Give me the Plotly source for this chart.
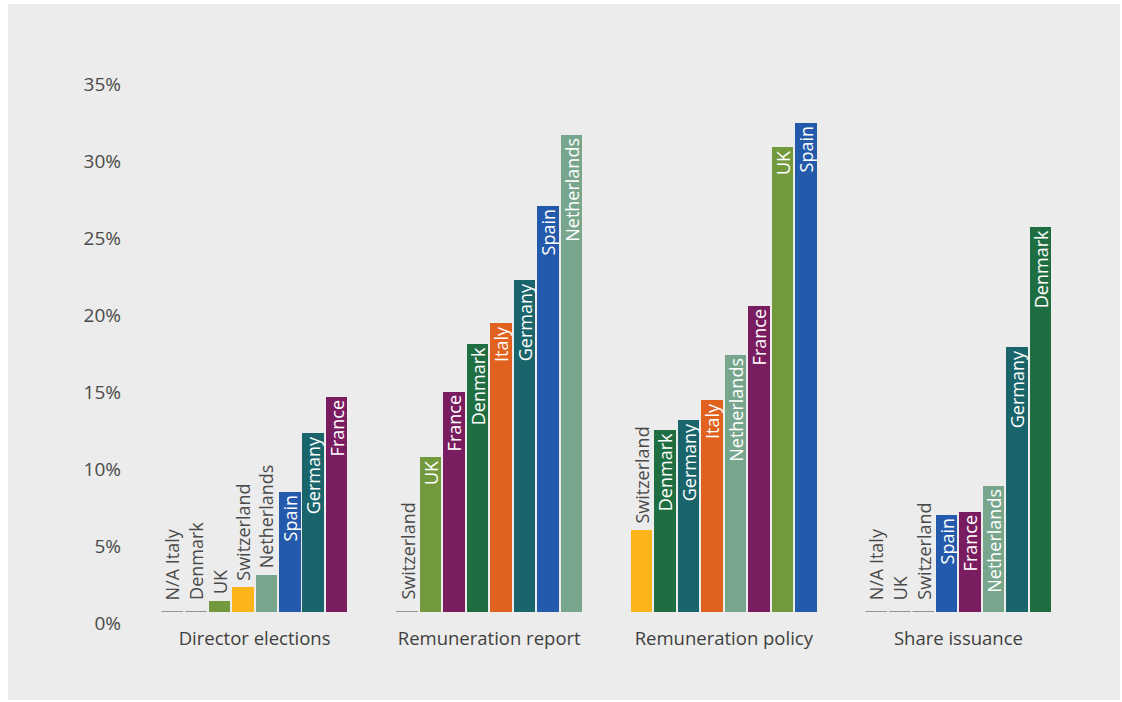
import plotly.graph_objects as go

# Share of resolutions opposed, by resolution type and market (%)
groups = ["Director elections", "Remuneration report", "Remuneration policy", "Share issuance"]

director_countries = ["N/A Italy", "Denmark", "UK", "Switzerland", "Netherlands", "Spain", "Germany", "France"]
director_values = [0, 0, 0.7, 1.6, 2.4, 7.8, 11.6, 14.0]

report_countries = ["Switzerland", "UK", "France", "Denmark", "Italy", "Germany", "Spain", "Netherlands"]
report_values = [0, 10.1, 14.3, 17.4, 18.8, 21.6, 26.4, 31.0]

policy_countries = ["Switzerland", "Denmark", "Germany", "Italy", "Netherlands", "France", "UK", "Spain"]
policy_values = [5.3, 11.8, 12.5, 13.8, 16.7, 19.9, 30.2, 31.8]

issuance_countries = ["N/A Italy", "UK", "Switzerland", "Spain", "France", "Netherlands", "Germany", "Denmark"]
issuance_values = [0, 0, 0, 6.3, 6.5, 8.2, 17.2, 25.0]

y_ticks = [0, 5, 10, 15, 20, 25, 30, 35]

country_colors = {
    "UK": "#72993c",
    "Switzerland": "#fbb41a",
    "Netherlands": "#78a68c",
    "Spain": "#245aab",
    "Germany": "#19656b",
    "France": "#791c60",
    "Denmark": "#1f6e42",
    "Italy": "#e1611f",
    "N/A Italy": "#e1611f",
}

BG = "rgb(235,236,235)"
FONT = "Open Sans"
GROUP_STEP = 10
BAR_W = 0.92
INSIDE_MIN = 6.0

all_countries = [director_countries, report_countries, policy_countries, issuance_countries]
all_values = [director_values, report_values, policy_values, issuance_values]

fig = go.Figure()

zero_x, zero_y = [], []
for g, (countries, values) in enumerate(zip(all_countries, all_values)):
    xs = [g * GROUP_STEP + i for i in range(len(values))]
    inside = [v >= INSIDE_MIN for v in values]
    fig.add_trace(go.Bar(
        x=xs,
        y=values,
        width=BAR_W,
        marker=dict(color=[country_colors[c] for c in countries], line=dict(width=0)),
        text=[c if f else "" for c, f in zip(countries, inside)],
        textangle=-90,
        textposition="inside",
        insidetextanchor="end",
        constraintext="none",
        textfont=dict(family=FONT, size=18, color="#ffffff"),
        hoverinfo="skip",
        showlegend=False,
    ))
    # labels of short bars sit just above the bar, in grey
    for x, v, c, f in zip(xs, values, countries, inside):
        if not f:
            fig.add_annotation(
                x=x, y=v, text=c, textangle=-90, showarrow=False,
                xanchor="center", yanchor="bottom",
                yshift=10 if v == 0 else 5,
                font=dict(family=FONT, size=18, color="#4a4a4a"),
            )
    # short baseline strokes for markets with no value
    for x, v in zip(xs, values):
        if v == 0:
            zero_x += [x - BAR_W / 2, x + BAR_W / 2, None]
            zero_y += [0, 0, None]

fig.add_trace(go.Scatter(
    x=zero_x, y=zero_y, mode="lines",
    line=dict(color="#777777", width=1.5),
    hoverinfo="skip", showlegend=False, cliponaxis=False,
))

L, R, T, B = 126, 58, 60, 90
plot_h = 702 - T - B
px_per_unit = 15.39

# light grey panel behind the chart
fig.add_shape(
    type="rect", xref="paper", yref="paper", layer="below",
    x0=(8 - L) / (1122 - L - R), x1=(1120 - L) / (1122 - L - R),
    y0=(702 - B - 700) / plot_h, y1=(702 - B - 4) / plot_h,
    fillcolor=BG, line=dict(width=0),
)

fig.update_layout(
    width=1122, height=702,
    margin=dict(l=L, r=R, t=T, b=B),
    paper_bgcolor="white",
    plot_bgcolor="rgba(0,0,0,0)",
    font=dict(family=FONT, color="#444444"),
    bargap=0,
    xaxis=dict(
        range=[-1.98, 38.0],
        tickvals=[g * GROUP_STEP + 3.5 for g in range(len(groups))],
        ticktext=groups,
        ticks="", showgrid=False, zeroline=False, showline=False,
        tickfont=dict(family=FONT, size=18.5, color="#3f3f3f"),
        ticklabelstandoff=13,
    ),
    yaxis=dict(
        range=[0, plot_h / px_per_unit],
        tickvals=y_ticks,
        ticktext=[f"{v}%" for v in y_ticks],
        ticks="", showgrid=False, zeroline=False, showline=False,
        tickfont=dict(family=FONT, size=19, color="#4a4a4a"),
        ticklabelshift=11,
        ticklabelstandoff=4,
    ),
)

fig.write_html("out.html")
